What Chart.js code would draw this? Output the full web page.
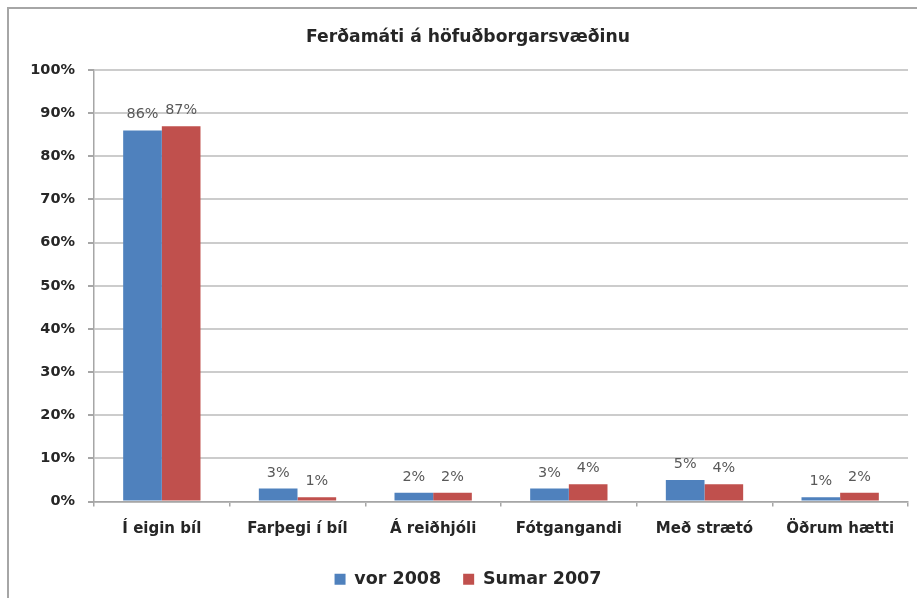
<!DOCTYPE html>
<html>
<head>
<meta charset="utf-8">
<script src="https://cdn.jsdelivr.net/npm/chart.js@4/dist/chart.umd.min.js"></script>
<style>
  html, body { margin: 0; padding: 0; background: #fff; }
  #wrap { width: 917px; height: 598px; }
</style>
</head>
<body>
<div id="wrap"><canvas id="ferdir" width="917" height="598"></canvas></div>
<script>
var chartTitle = 'Ferðamáti á höfuðborgarsvæðinu';
var categories = ['Í eigin bíl', 'Farþegi í bíl', 'Á reiðhjóli', 'Fótgangandi', 'Með strætó', 'Öðrum hætti'];
var seriesNames = ['vor 2008', 'Sumar 2007'];
var vor2008 = [86, 3, 2, 3, 5, 1];
var sumar2007 = [87, 1, 2, 4, 4, 2];
var yTicks = [0, 10, 20, 30, 40, 50, 60, 70, 80, 90, 100];

var fontFamily = '"DejaVu Sans", sans-serif';
var textColor = '#262626';

// gray frame round the chart (left and top edges)
var framePlugin = {
  id: 'frame',
  beforeDraw: function(chart) {
    var ctx = chart.ctx;
    ctx.save();
    ctx.fillStyle = '#fff';
    ctx.fillRect(0, 0, chart.width, chart.height);
    ctx.strokeStyle = '#a6a6a6';
    ctx.lineWidth = 2;
    ctx.beginPath();
    ctx.moveTo(8, chart.height);
    ctx.lineTo(8, 8);
    ctx.lineTo(chart.width, 8);
    ctx.stroke();
    ctx.restore();
  }
};

// percent labels above each bar
var barLabelPlugin = {
  id: 'barLabels',
  afterDatasetsDraw: function(chart) {
    var ctx = chart.ctx;
    ctx.save();
    ctx.font = '14.4px ' + fontFamily;
    ctx.fillStyle = '#595959';
    ctx.textAlign = 'center';
    ctx.textBaseline = 'alphabetic';
    chart.data.datasets.forEach(function(ds, i) {
      var meta = chart.getDatasetMeta(i);
      meta.data.forEach(function(bar, j) {
        ctx.fillText(ds.data[j] + '%', bar.x, bar.y - 12);
      });
    });
    ctx.restore();
  }
};

var ferdir = new Chart(document.getElementById('ferdir').getContext('2d'), {
  type: 'bar',
  data: {
    labels: categories,
    datasets: [{
      label: seriesNames[0],
      data: vor2008,
      backgroundColor: '#4f81bd',
      categoryPercentage: 0.57,
      barPercentage: 1
    }, {
      label: seriesNames[1],
      data: sumar2007,
      backgroundColor: '#c0504d',
      categoryPercentage: 0.57,
      barPercentage: 1
    }]
  },
  options: {
    responsive: false,
    animation: false,
    layout: { padding: { left: 28, right: 9, top: 0, bottom: 0 } },
    plugins: {
      title: {
        display: true,
        text: chartTitle,
        color: textColor,
        font: { family: fontFamily, size: 17.2, weight: 'bold', lineHeight: 1.2 },
        padding: { top: 27, bottom: 22.4 }
      },
      legend: {
        position: 'bottom',
        labels: {
          color: textColor,
          font: { family: fontFamily, size: 17.5, weight: 'bold' },
          boxWidth: 11,
          boxHeight: 11,
          padding: 22
        }
      },
      tooltip: { enabled: false }
    },
    scales: {
      x: {
        afterFit: function(s) { s.height = 47; },
        grid: {
          offset: true,
          drawOnChartArea: false,
          tickLength: 5,
          color: '#a6a6a6',
          lineWidth: 1.5
        },
        border: { color: '#a6a6a6', width: 1.5 },
        ticks: {
          color: textColor,
          padding: 14,
          font: { family: fontFamily, size: 15, weight: 'bold' }
        }
      },
      y: {
        min: 0,
        max: 100,
        afterFit: function(s) { s.width = 66; },
        afterBuildTicks: function(s) {
          s.ticks = yTicks.map(function(v) { return { value: v }; });
        },
        grid: {
          color: '#cccccc',
          lineWidth: 2,
          tickLength: 6,
          tickColor: '#a6a6a6'
        },
        border: { color: '#a6a6a6', width: 1.5 },
        ticks: {
          color: textColor,
          padding: 13,
          font: { family: fontFamily, size: 14.5, weight: 'bold' },
          callback: function(v) { return v + '%'; }
        }
      }
    }
  },
  plugins: [framePlugin, barLabelPlugin]
});
</script>
</body>
</html>
